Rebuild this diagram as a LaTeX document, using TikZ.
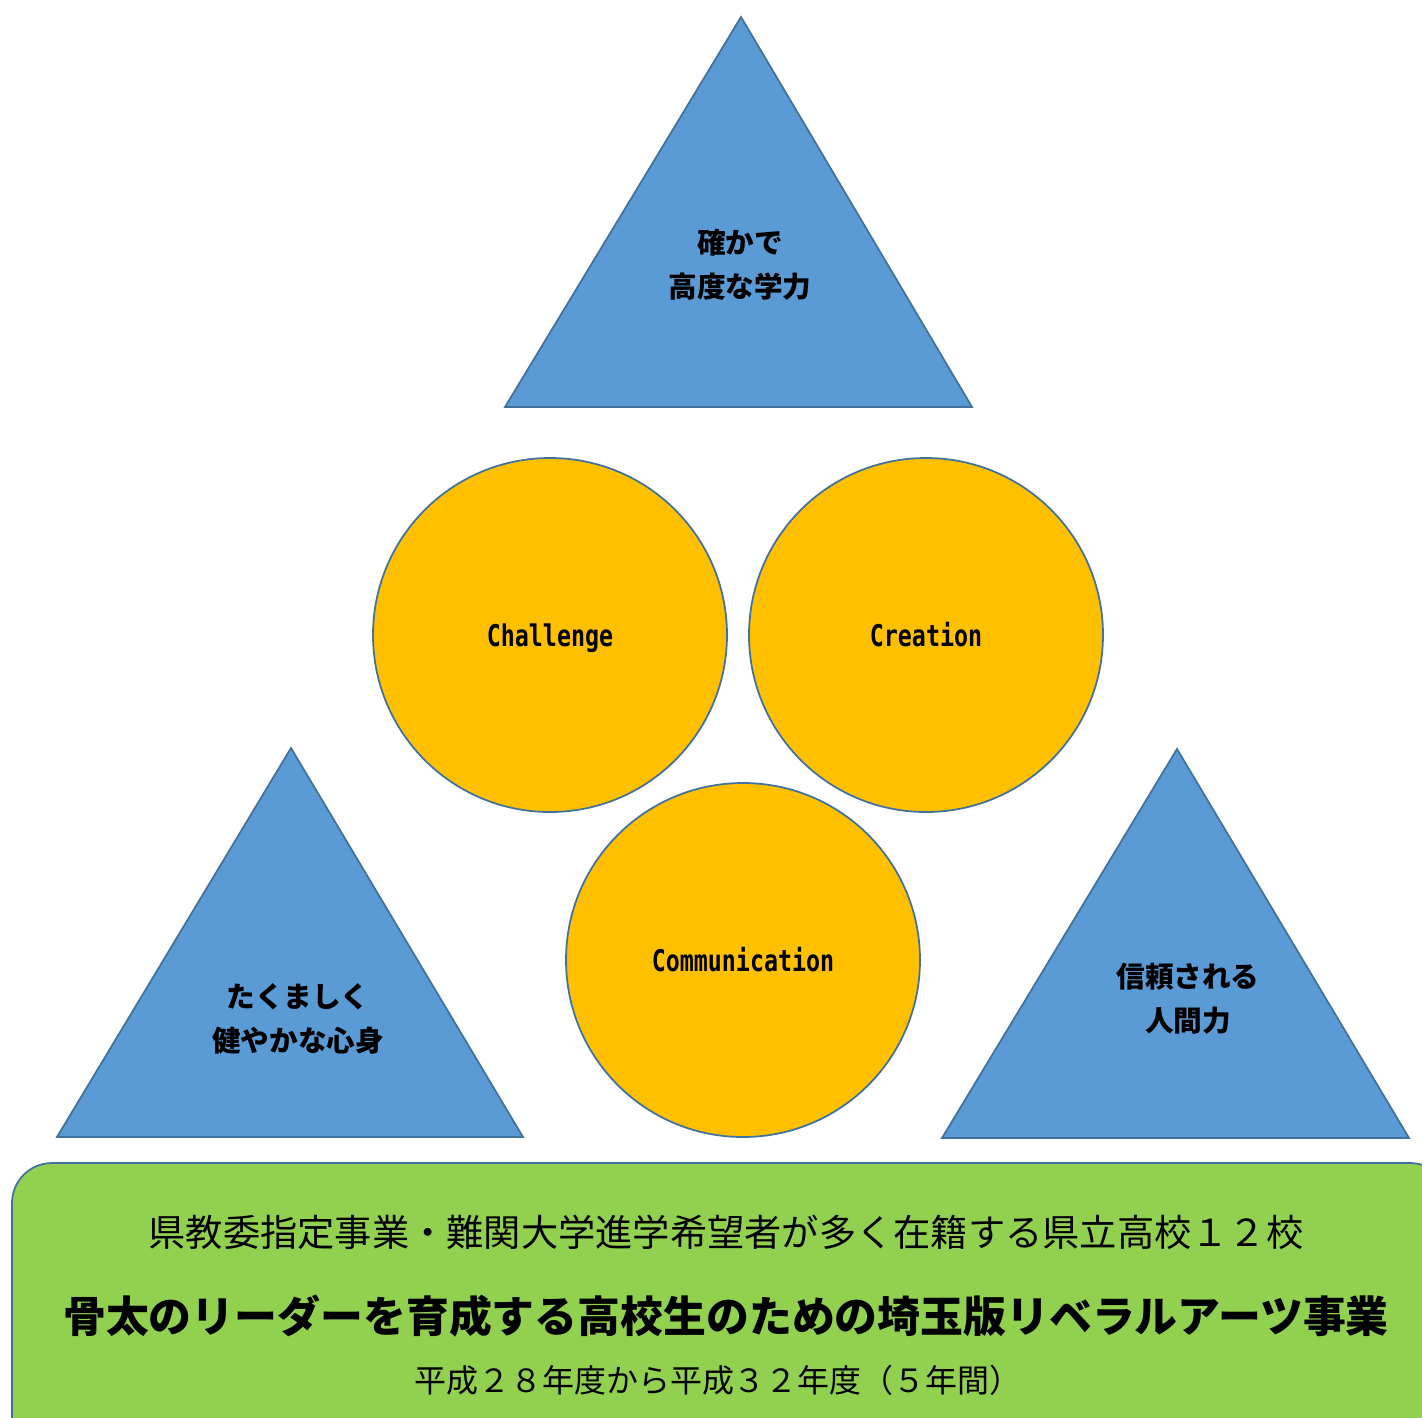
\documentclass[tikz,border=0pt]{standalone}
\usepackage{fontspec}
\setmainfont{Noto Sans CJK JP}
\newfontfamily\monolatin[FakeStretch=0.78]{DejaVu Sans Mono}
\usetikzlibrary{positioning}

\definecolor{triblue}{HTML}{5B9BD5}
\definecolor{edgeblue}{HTML}{41719C}
\definecolor{ringgold}{HTML}{FFC000}
\definecolor{basegreen}{HTML}{92D050}

\tikzset{
  tri/.style={draw=edgeblue, fill=triblue, line width=1pt, line join=miter},
  ring/.style={circle, draw=edgeblue, fill=ringgold, line width=1pt, minimum size=354*0.02cm, inner sep=0pt},
  tritext/.style={font=\fontsize{16.3}{25}\selectfont\bfseries, align=center},
  ringtext/.style={font=\fontsize{17}{20}\selectfont\monolatin\bfseries, text height=1.6ex, text depth=0.5ex, yshift=-0.12cm},
}

\begin{document}
\begin{tikzpicture}[x=0.02cm, y=-0.02cm]
    \clip (0,0) rectangle (1422,1417);
    \useasboundingbox (0,0) rectangle (1422,1417);

    % triangles
    \draw[tri] (741,17) -- (972,407) -- (505,407) -- cycle;
    \draw[tri] (291,748) -- (523,1137) -- (57,1137) -- cycle;
    \draw[tri] (1177,749) -- (1409,1138) -- (942,1138) -- cycle;
    \node (academic) [tritext] at (740,265) {確かで\\高度な学力};
    \node (health) [tritext] at (298,1019) {たくましく\\健やかな心身};
    \node (trust) [tritext] at (1188,999) {信頼される\\人間力};

    % circles
    \node (challenge) [ring] at (550,635) {};
    \node (creation) [ring] at (926,635) {};
    \node (communication) [ring] at (743,960) {};
    \node [ringtext] at (challenge) {Challenge};
    \node [ringtext] at (creation) {Creation};
    \node [ringtext] at (communication) {Communication};

    % base
    \draw[draw=edgeblue, fill=basegreen, line width=1pt, rounded corners=0.8cm] (12,1163) rectangle (1450,1480);
    \node (sponsor) at (726,1232) {\fontsize{21.2}{24}\selectfont 県教委指定事業・難関大学進学希望者が多く在籍する県立高校１２校};
    \node (project) at (726,1316) {\fontsize{24.4}{28}\selectfont\bfseries 骨太のリーダーを育成する高校生のための埼玉版リベラルアーツ事業};
    \node (period) at (718,1380) {\fontsize{18.2}{20}\selectfont 平成２８年度から平成３２年度（５年間）};
\end{tikzpicture}
\end{document}
